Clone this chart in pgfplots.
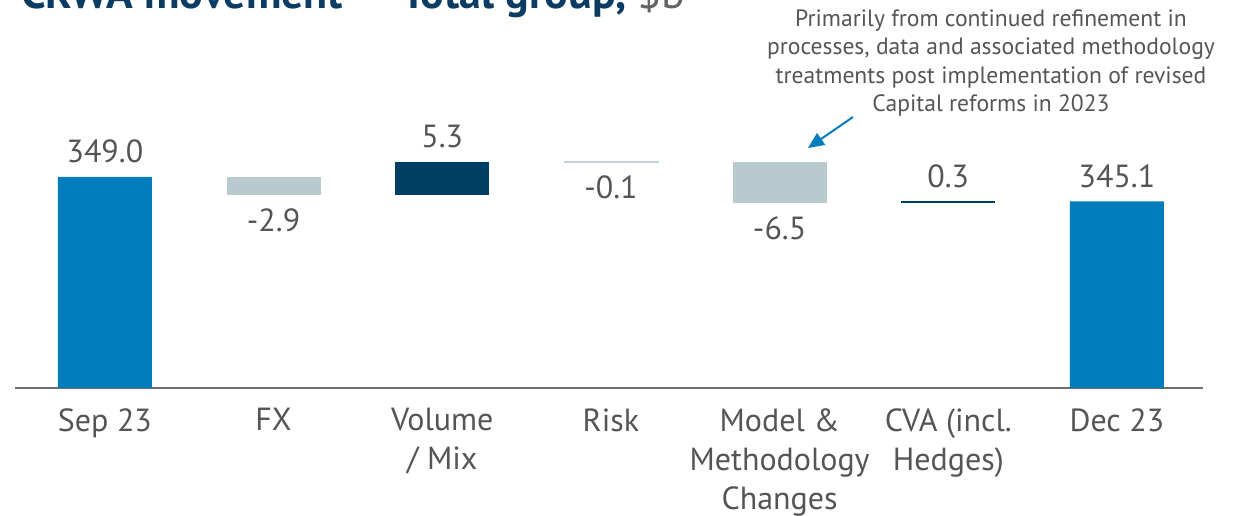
\documentclass[border=0pt]{standalone}
\usepackage{pgfplots}
\pgfplotsset{compat=1.18}
\usetikzlibrary{arrows.meta}
\usepackage{fontspec}
\setmainfont{PT Sans}
\definecolor{cblue}{RGB}{0,125,186}
\definecolor{cnavy}{RGB}{0,63,99}
\definecolor{clight}{RGB}{185,201,208}
\definecolor{crisk}{RGB}{190,210,220}
\definecolor{ctext}{RGB}{85,85,85}
\definecolor{caxis}{RGB}{110,110,110}
\definecolor{ctitle}{RGB}{10,60,100}
\definecolor{cgray}{RGB}{100,100,100}
\begin{document}
\begin{tikzpicture}
\begin{axis}[
  at={(7.5pt,63.5pt)}, anchor=south west,
  scale only axis, width=594pt, height=140.2pt,
  xmin=-0.533, xmax=6.51, ymin=315.5, ymax=360,
  axis y line=none, axis x line*=bottom,
  x axis line style={-, draw=caxis, line width=1pt},
  xtick={0,...,6}, major tick length=0pt, ytick=\empty,
  xticklabels={Sep 23, FX, Volume\\/ Mix, Risk, Model \&\\Methodology\\Changes, CVA (incl.\\Hedges), Dec 23},
  xticklabel style={align=center, anchor=north, inner sep=0pt, yshift=-10pt, font=\fontsize{16}{19.5}\selectfont, text=ctext},
]
% start and end totals
\addplot[ybar, bar width=47pt, bar shift=0pt, fill=cblue, draw=none] coordinates {(0,349.0) (6,345.1)};
% FX
\addplot[fill=clight, draw=none] coordinates {(0.7214,346.1) (1.2786,346.1) (1.2786,349.0) (0.7214,349.0)} -- cycle;
% Volume / Mix
\addplot[fill=cnavy, draw=none] coordinates {(1.7214,346.1) (2.2786,346.1) (2.2786,351.4) (1.7214,351.4)} -- cycle;
% Risk
\addplot[fill=crisk, draw=crisk, line width=0.4pt] coordinates {(2.7214,351.3) (3.2786,351.3) (3.2786,351.4) (2.7214,351.4)} -- cycle;
% Model & Methodology
\addplot[fill=clight, draw=none] coordinates {(3.7214,344.8) (4.2786,344.8) (4.2786,351.3) (3.7214,351.3)} -- cycle;
% CVA
\addplot[fill=cnavy, draw=none] coordinates {(4.7214,344.8) (5.2786,344.8) (5.2786,345.1) (4.7214,345.1)} -- cycle;
% labels above
\addplot[draw=none, nodes near coords, point meta=explicit symbolic,
  every node near coord/.append style={anchor=base, yshift=7pt, inner sep=0pt, font=\fontsize{16}{19}\selectfont, text=ctext}]
  coordinates {(0,349.0)[349.0] (2,351.4)[5.3] (5,345.1)[0.3] (6,345.1)[345.1]};
% labels below
\addplot[draw=none, nodes near coords, point meta=explicit symbolic,
  every node near coord/.append style={anchor=base, yshift=-18pt, inner sep=0pt, font=\fontsize{16}{19}\selectfont, text=ctext}]
  coordinates {(1,346.1)[-2.9] (3,351.3)[-0.1] (4,344.8)[-6.5]};
\end{axis}
\node[anchor=base west, inner sep=0pt, text=ctitle, font=\fontsize{22}{26}\selectfont\bfseries] at (10.5pt,253pt) {CRWA movement — Total group, {\color{cgray}\mdseries\$b}};
\node[align=center, anchor=north, inner sep=0pt, text=ctext, font=\fontsize{11.8}{14.25}\selectfont] at (495.5pt,253pt) {Primarily from continued refinement in\\processes, data and associated methodology\\treatments post implementation of revised\\Capital reforms in 2023};
\draw[cblue, line width=1pt, -{Triangle[length=8pt,width=7pt]}] (426.5pt,199pt) -- (404pt,183.5pt);
\pgfresetboundingbox
\useasboundingbox (0,0) rectangle (622pt,257.5pt);
\end{tikzpicture}
\end{document}
